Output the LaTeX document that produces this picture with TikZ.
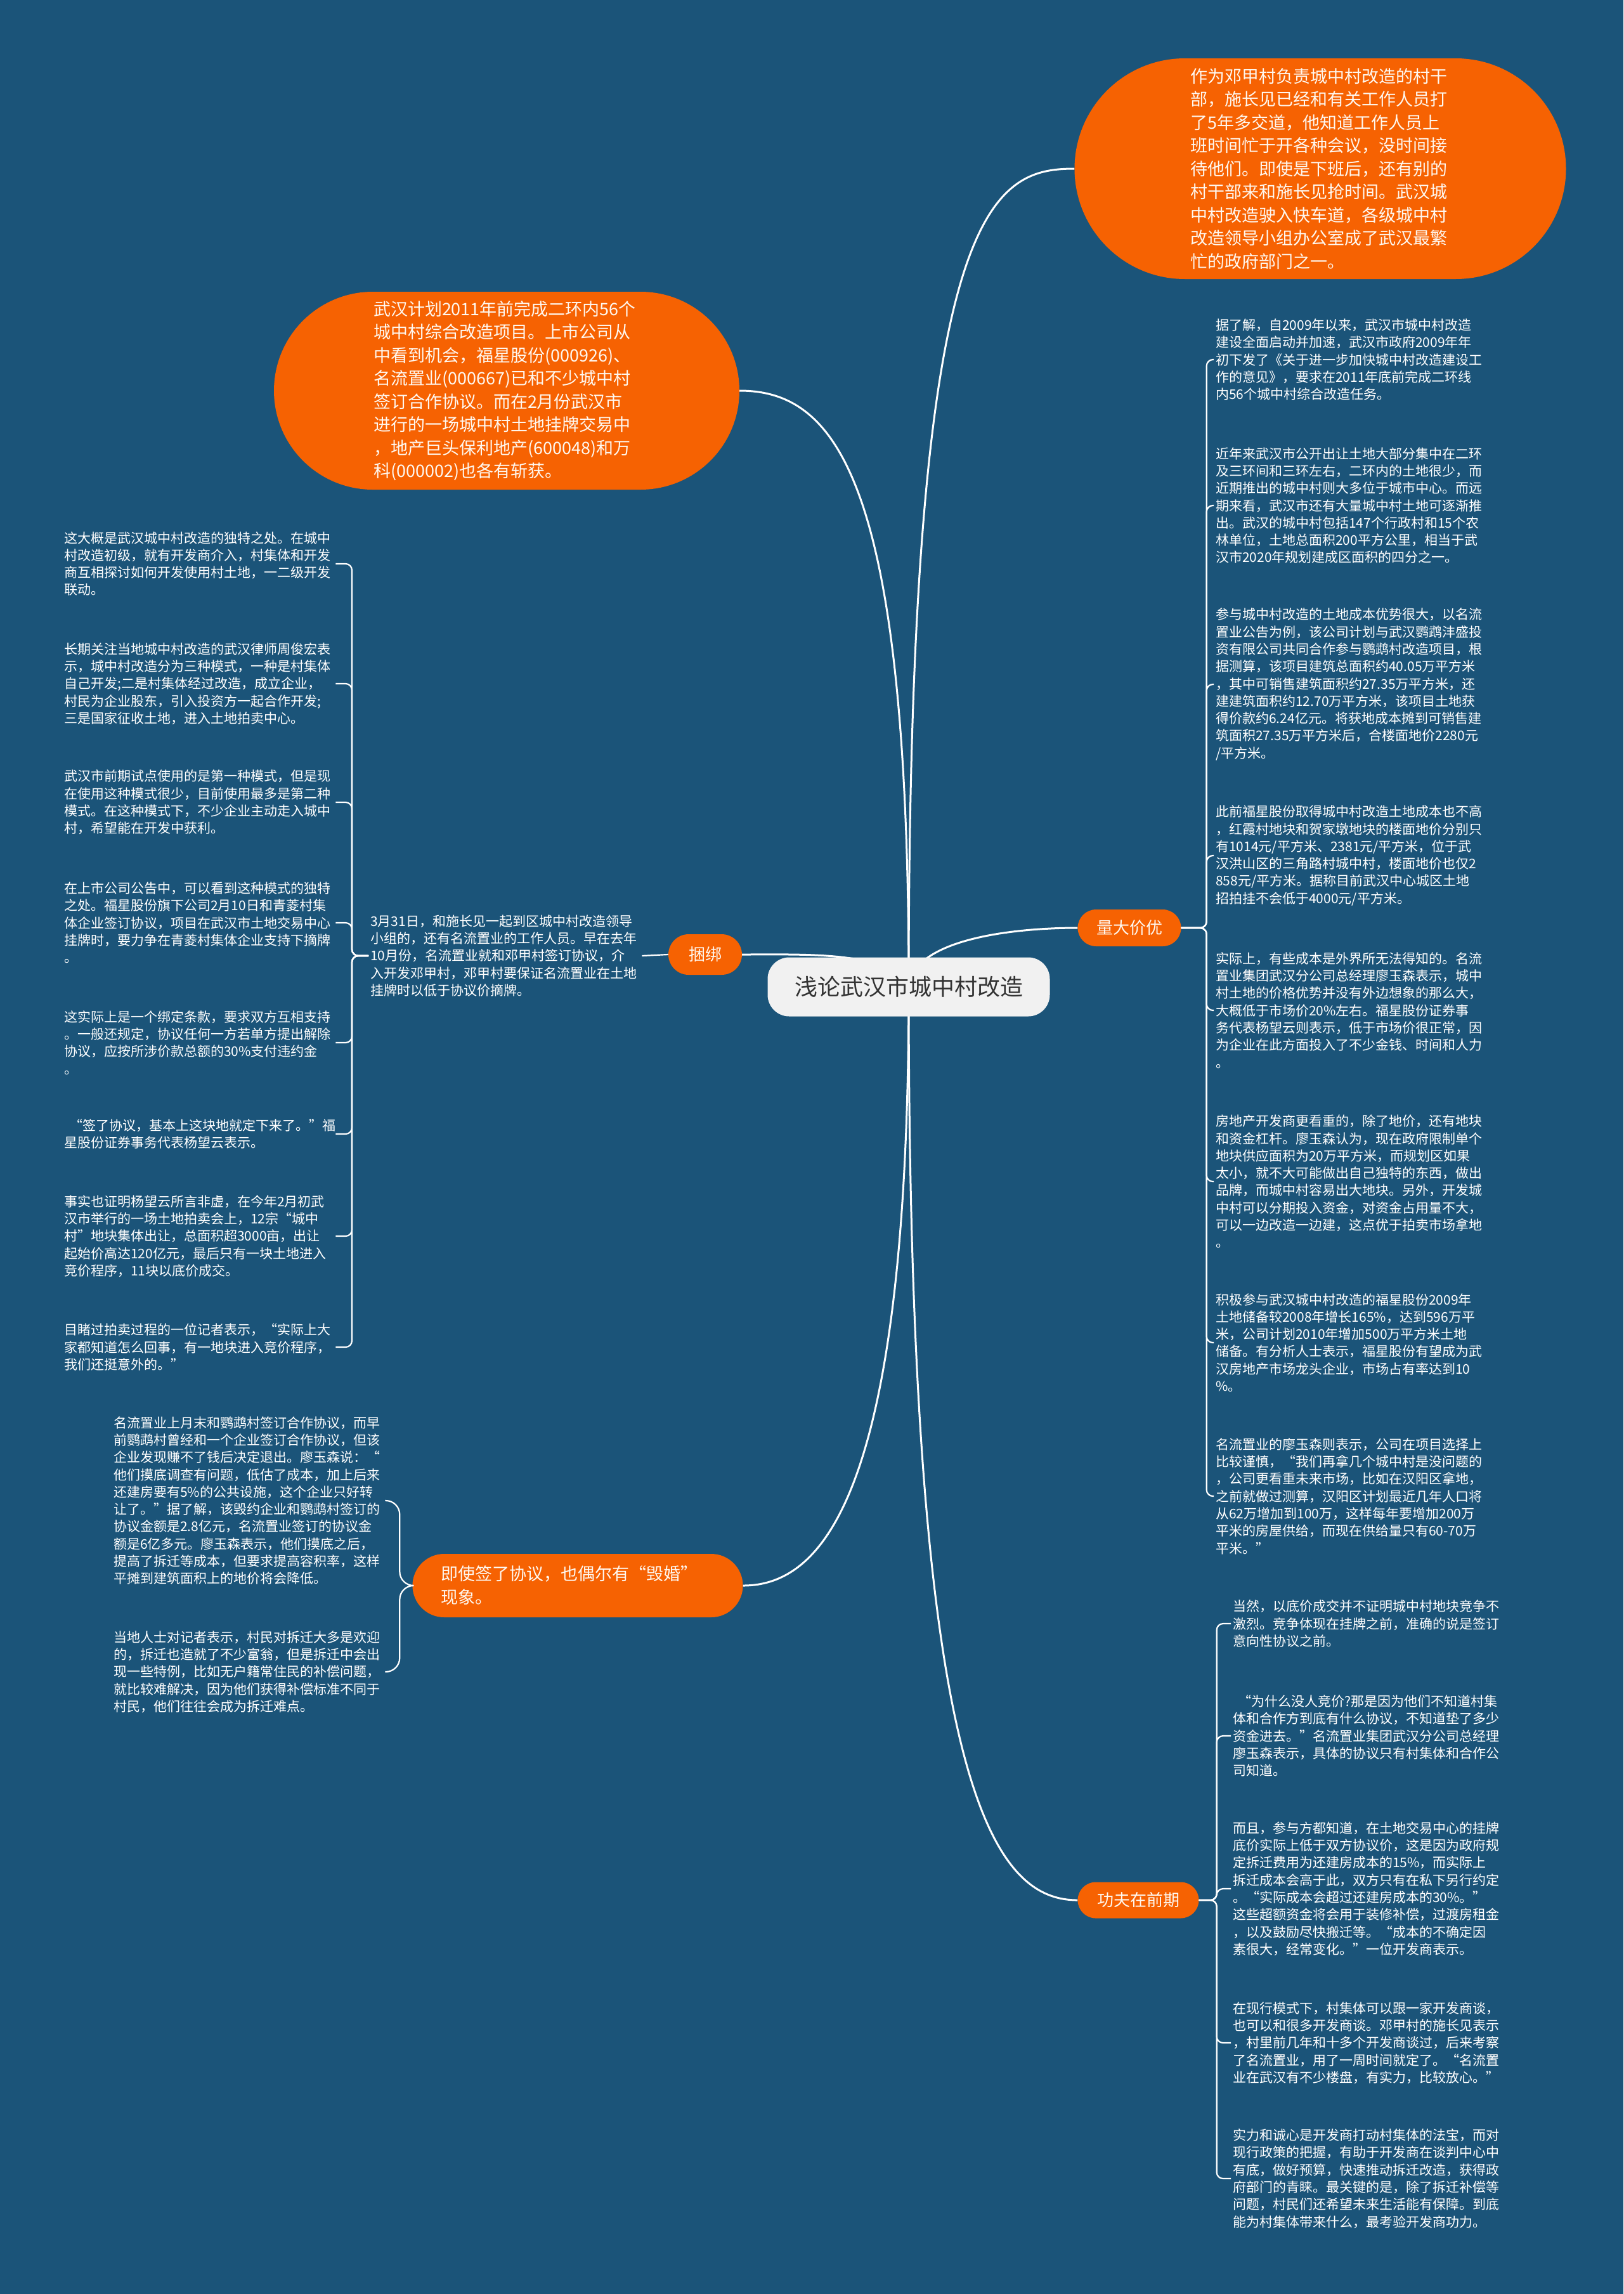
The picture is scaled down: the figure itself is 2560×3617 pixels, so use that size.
\documentclass[tikz,border=0pt]{standalone}
\usepackage{fontspec}
\setmainfont{Noto Sans CJK SC}
\usetikzlibrary{shapes.misc}
\pgfdeclarelayer{bg}
\pgfdeclarelayer{edges}
\pgfsetlayers{bg,edges,main}
\definecolor{bgblue}{RGB}{27,84,121}
\definecolor{orng}{RGB}{246,98,2}
\definecolor{rootfill}{RGB}{241,241,241}
\definecolor{roottext}{RGB}{51,51,51}
\definecolor{lighttext}{RGB}{255,248,240}
\tikzset{
  leaf/.style={text=white, font=\fontsize{21}{27.3}\selectfont, align=left, text width=425pt, inner sep=3pt, anchor=west},
  bigorange/.style={rounded rectangle, fill=orng, text=lighttext, font=\fontsize{27}{36.5}\selectfont, align=left, inner sep=0pt},
  branch/.style={rounded rectangle, fill=orng, text=lighttext, font=\fontsize{26}{30}\selectfont, inner sep=0pt},
  rootnode/.style={rectangle, rounded corners=34pt, fill=rootfill, text=roottext, font=\fontsize{36}{42}\selectfont, inner sep=0pt, minimum width=445pt, minimum height=93pt},
  mainlink/.style={draw=white, line width=3pt},
  bracketlink/.style={draw=white, line width=2.2pt, rounded corners=10pt},
  bracebig/.style={draw=white, line width=2.2pt, rounded corners=22pt},
}
\begin{document}
\begin{tikzpicture}[x=1pt,y=-1pt]
\useasboundingbox (0,0) rectangle (2560,3617);
\begin{pgfonlayer}{bg}
\fill[bgblue] (0,0) rectangle (2560,3617);
\end{pgfonlayer}

% root and main branches
\node[rootnode] (root) at (1433,1556) {浅论武汉市城中村改造};
\node[bigorange, minimum width=775pt, minimum height=348pt, text width=410pt] (tr) at (2082,266) {作为邓甲村负责城中村改造的村干\\部，施长见已经和有关工作人员打\\了5年多交道，他知道工作人员上\\班时间忙于开各种会议，没时间接\\待他们。即使是下班后，还有别的\\村干部来和施长见抢时间。武汉城\\中村改造驶入快车道，各级城中村\\改造领导小组办公室成了武汉最繁\\忙的政府部门之一。};
\node[bigorange, minimum width=734pt, minimum height=312pt, text width=420pt] (tl) at (799,616) {武汉计划2011年前完成二环内56个\\城中村综合改造项目。上市公司从\\中看到机会，福星股份(000926)、\\名流置业(000667)已和不少城中村\\签订合作协议。而在2月份武汉市\\进行的一场城中村土地挂牌交易中\\，地产巨头保利地产(600048)和万\\科(000002)也各有斩获。};
\node[branch, minimum width=116pt, minimum height=64pt] (kb) at (1112,1505) {捆绑};
\node[branch, minimum width=163pt, minimum height=58pt] (qd) at (1781,1463) {量大价优};
\node[branch, minimum width=191pt, minimum height=57pt] (gf) at (1795,2996) {功夫在前期};
\node[bigorange, minimum width=521pt, minimum height=100pt, text width=432pt, font=\fontsize{27}{37}\selectfont] (js) at (911,2500) {即使签了协议，也偶尔有“毁婚”\\现象。};

% 捆绑 leaves
\node[leaf] (k0) at (581,1507) {3月31日，和施长见一起到区城中村改造领导\\小组的，还有名流置业的工作人员。早在去年\\10月份，名流置业就和邓甲村签订协议，介\\入开发邓甲村，邓甲村要保证名流置业在土地\\挂牌时以低于协议价摘牌。};
\node[leaf] (k1) at (98,889) {这大概是武汉城中村改造的独特之处。在城中\\村改造初级，就有开发商介入，村集体和开发\\商互相探讨如何开发使用村土地，一二级开发\\联动。};
\node[leaf] (k2) at (98,1078) {长期关注当地城中村改造的武汉律师周俊宏表\\示，城中村改造分为三种模式，一种是村集体\\自己开发;二是村集体经过改造，成立企业，\\村民为企业股东，引入投资方一起合作开发;\\三是国家征收土地，进入土地拍卖中心。};
\node[leaf] (k3) at (98,1265) {武汉市前期试点使用的是第一种模式，但是现\\在使用这种模式很少，目前使用最多是第二种\\模式。在这种模式下，不少企业主动走入城中\\村，希望能在开发中获利。};
\node[leaf] (k4) at (98,1455) {在上市公司公告中，可以看到这种模式的独特\\之处。福星股份旗下公司2月10日和青菱村集\\体企业签订协议，项目在武汉市土地交易中心\\挂牌时，要力争在青菱村集体企业支持下摘牌\\。};
\node[leaf] (k5) at (98,1644) {这实际上是一个绑定条款，要求双方互相支持\\。一般还规定，协议任何一方若单方提出解除\\协议，应按所涉价款总额的30\%支付违约金\\。};
\node[leaf] (k6) at (98,1788) {\hspace{8pt}“签了协议，基本上这块地就定下来了。”福\\星股份证券事务代表杨望云表示。};
\node[leaf] (k7) at (98,1949) {事实也证明杨望云所言非虚，在今年2月初武\\汉市举行的一场土地拍卖会上，12宗“城中\\村”地块集体出让，总面积超3000亩，出让\\起始价高达120亿元，最后只有一块土地进入\\竞价程序，11块以底价成交。};
\node[leaf] (k8) at (98,2124) {目睹过拍卖过程的一位记者表示，“实际上大\\家都知道怎么回事，有一地块进入竞价程序，\\我们还挺意外的。”};

% 量大价优 leaves
\node[leaf] (r1) at (1914,567) {据了解，自2009年以来，武汉市城中村改造\\建设全面启动并加速，武汉市政府2009年年\\初下发了《关于进一步加快城中村改造建设工\\作的意见》，要求在2011年底前完成二环线\\内56个城中村综合改造任务。};
\node[leaf] (r2) at (1914,797) {近年来武汉市公开出让土地大部分集中在二环\\及三环间和三环左右，二环内的土地很少，而\\近期推出的城中村则大多位于城市中心。而远\\期来看，武汉市还有大量城中村土地可逐渐推\\出。武汉的城中村包括147个行政村和15个农\\林单位，土地总面积200平方公里，相当于武\\汉市2020年规划建成区面积的四分之一。};
\node[leaf] (r3) at (1914,1079) {参与城中村改造的土地成本优势很大，以名流\\置业公告为例，该公司计划与武汉鹦鹉沣盛投\\资有限公司共同合作参与鹦鹉村改造项目，根\\据测算，该项目建筑总面积约40.05万平方米\\，其中可销售建筑面积约27.35万平方米，还\\建建筑面积约12.70万平方米，该项目土地获\\得价款约6.24亿元。将获地成本摊到可销售建\\筑面积27.35万平方米后，合楼面地价2280元\\/平方米。};
\node[leaf] (r4) at (1914,1349) {此前福星股份取得城中村改造土地成本也不高\\，红霞村地块和贺家墩地块的楼面地价分别只\\有1014元/平方米、2381元/平方米，位于武\\汉洪山区的三角路村城中村，楼面地价也仅2\\858元/平方米。据称目前武汉中心城区土地\\招拍挂不会低于4000元/平方米。};
\node[leaf] (r5) at (1914,1593) {实际上，有些成本是外界所无法得知的。名流\\置业集团武汉分公司总经理廖玉森表示，城中\\村土地的价格优势并没有外边想象的那么大，\\大概低于市场价20\%左右。福星股份证券事\\务代表杨望云则表示，低于市场价很正常，因\\为企业在此方面投入了不少金钱、时间和人力\\。};
\node[leaf] (r6) at (1914,1863) {房地产开发商更看重的，除了地价，还有地块\\和资金杠杆。廖玉森认为，现在政府限制单个\\地块供应面积为20万平方米，而规划区如果\\太小，就不大可能做出自己独特的东西，做出\\品牌，而城中村容易出大地块。另外，开发城\\中村可以分期投入资金，对资金占用量不大，\\可以一边改造一边建，这点优于拍卖市场拿地\\。};
\node[leaf] (r7) at (1914,2117) {积极参与武汉城中村改造的福星股份2009年\\土地储备较2008年增长165\%，达到596万平\\米，公司计划2010年增加500万平方米土地\\储备。有分析人士表示，福星股份有望成为武\\汉房地产市场龙头企业，市场占有率达到10\\\%。};
\node[leaf] (r8) at (1914,2359) {名流置业的廖玉森则表示，公司在项目选择上\\比较谨慎，“我们再拿几个城中村是没问题的\\，公司更看重未来市场，比如在汉阳区拿地，\\之前就做过测算，汉阳区计划最近几年人口将\\从62万增加到100万，这样每年要增加200万\\平米的房屋供给，而现在供给量只有60-70万\\平米。”};

% 功夫在前期 leaves
\node[leaf] (b1) at (1941,2560) {当然，以底价成交并不证明城中村地块竞争不\\激烈。竞争体现在挂牌之前，准确的说是签订\\意向性协议之前。};
\node[leaf] (b2) at (1941,2737) {\hspace{8pt}“为什么没人竞价?那是因为他们不知道村集\\体和合作方到底有什么协议，不知道垫了多少\\资金进去。”名流置业集团武汉分公司总经理\\廖玉森表示，具体的协议只有村集体和合作公\\司知道。};
\node[leaf] (b3) at (1941,2978) {而且，参与方都知道，在土地交易中心的挂牌\\底价实际上低于双方协议价，这是因为政府规\\定拆迁费用为还建房成本的15\%，而实际上\\拆迁成本会高于此，双方只有在私下另行约定\\。“实际成本会超过还建房成本的30\%。”\\这些超额资金将会用于装修补偿，过渡房租金\\，以及鼓励尽快搬迁等。“成本的不确定因\\素很大，经常变化。”一位开发商表示。};
\node[leaf] (b4) at (1941,3221) {在现行模式下，村集体可以跟一家开发商谈，\\也可以和很多开发商谈。邓甲村的施长见表示\\，村里前几年和十多个开发商谈过，后来考察\\了名流置业，用了一周时间就定了。“名流置\\业在武汉有不少楼盘，有实力，比较放心。”};
\node[leaf] (b5) at (1941,3435) {实力和诚心是开发商打动村集体的法宝，而对\\现行政策的把握，有助于开发商在谈判中心中\\有底，做好预算，快速推动拆迁改造，获得政\\府部门的青睐。最关键的是，除了拆迁补偿等\\问题，村民们还希望未来生活能有保障。到底\\能为村集体带来什么，最考验开发商功力。};

% 即使签了协议 leaves
\node[leaf] (l1) at (176,2366) {名流置业上月末和鹦鹉村签订合作协议，而早\\前鹦鹉村曾经和一个企业签订合作协议，但该\\企业发现赚不了钱后决定退出。廖玉森说：“\\他们摸底调查有问题，低估了成本，加上后来\\还建房要有5\%的公共设施，这个企业只好转\\让了。”据了解，该毁约企业和鹦鹉村签订的\\协议金额是2.8亿元，名流置业签订的协议金\\额是6亿多元。廖玉森表示，他们摸底之后，\\提高了拆迁等成本，但要求提高容积率，这样\\平摊到建筑面积上的地价将会降低。};
\node[leaf] (l2) at (176,2636) {当地人士对记者表示，村民对拆迁大多是欢迎\\的，拆迁也造就了不少富翁，但是拆迁中会出\\现一些特例，比如无户籍常住民的补偿问题，\\就比较难解决，因为他们获得补偿标准不同于\\村民，他们往往会成为拆迁难点。};

\begin{pgfonlayer}{edges}
% root to main branches
\draw[mainlink] (root.center) .. controls (1433,760) and (1320,616) .. (tl.east);
\draw[mainlink] (root.center) .. controls (1433,330) and (1560,266) .. (tr.west);
\draw[mainlink] (root.center) .. controls (1440,1480) and (1600,1463) .. (qd.west);
\draw[mainlink] (root.center) .. controls (1400,1500) and (1280,1505) .. (kb.east);
\draw[mainlink] (root.center) .. controls (1433,2350) and (1300,2500) .. (js.east);
\draw[mainlink] (root.center) .. controls (1433,2800) and (1560,2996) .. (gf.west);
\end{pgfonlayer}

% 捆绑 chain
\draw[bracketlink] (kb.west) -- (k0.east);
\foreach \n in {k1,k2,k3,k4,k5,k6,k7,k8}{
  \draw[bracketlink] (k0.west) -- ++(-26,0) |- (\n.east);
}
% 量大价优
\foreach \n in {r1,r2,r3,r4,r5,r6,r7,r8}{
  \draw[bracketlink] (qd.east) -- ++(40,0) |- (\n.west);
}
% 功夫在前期
\foreach \n in {b1,b2,b3,b4,b5}{
  \draw[bracketlink] (gf.east) -- ++(28,0) |- (\n.west);
}
% 即使签了协议
\foreach \n in {l1,l2}{
  \draw[bracebig] (js.west) -- ++(-20,0) |- (\n.east);
}
\end{tikzpicture}
\end{document}
